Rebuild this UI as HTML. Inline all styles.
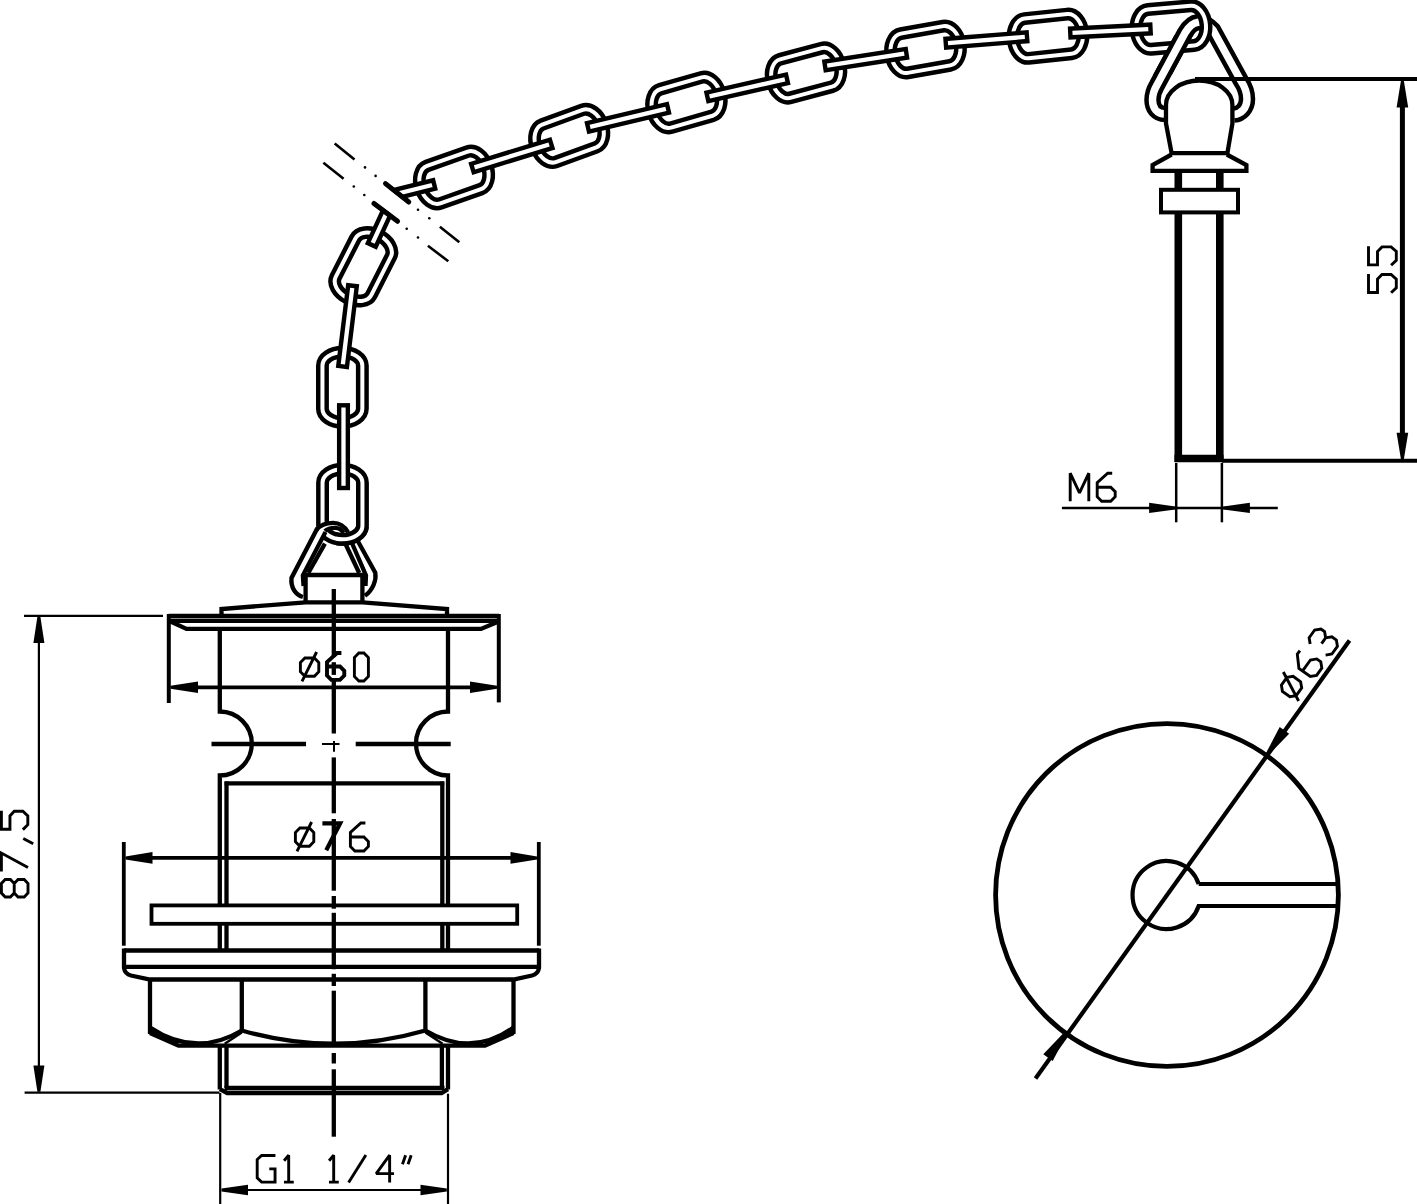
<!DOCTYPE html>
<html><head><meta charset="utf-8"><title>drawing</title>
<style>html,body{margin:0;padding:0;background:#fff;}svg{display:block;}</style></head>
<body><svg width="1417" height="1204" viewBox="0 0 1417 1204">
<defs><clipPath id="clipV1"><rect x="336" y="527" width="45" height="19.5"/></clipPath><clipPath id="clipH7"><rect x="1140" y="35" width="60" height="40"/></clipPath></defs>
<rect x="0" y="0" width="1417" height="1204" fill="#fff"/>
<g stroke="#000" fill="none" stroke-linecap="butt">
<polyline points="221.5,614.5 221.5,609 305.5,602.3 362.5,602.3 447,609 447,614.5" stroke-width="4.3" fill="none" stroke-linejoin="miter"/>
<line x1="168.8" y1="616" x2="499" y2="616" stroke-width="4.3" stroke-linecap="butt"/>
<line x1="170" y1="620.8" x2="498" y2="620.8" stroke-width="4.3" stroke-linecap="butt"/>
<polyline points="170,621.3 186.5,628.9 481,628.9 497.5,622" stroke-width="4.3" fill="none" stroke-linejoin="miter"/>
<path d="M219.8,627 L219.8,711.5 A32,32 0 0 1 219.8,775.5 L219.8,951" stroke-width="4.3" fill="none" />
<path d="M448,627 L448,711.5 A32,32 0 0 0 448,775.5 L448,951" stroke-width="4.3" fill="none" />
<line x1="226.5" y1="781.5" x2="226.5" y2="951" stroke-width="4.3" stroke-linecap="butt"/>
<line x1="442.3" y1="781.5" x2="442.3" y2="951" stroke-width="4.3" stroke-linecap="butt"/>
<line x1="224.6" y1="783.4" x2="444.2" y2="783.4" stroke-width="4.3" stroke-linecap="butt"/>
<line x1="211.5" y1="744" x2="306" y2="744" stroke-width="4.3" stroke-linecap="butt"/>
<line x1="355.7" y1="744" x2="450.7" y2="744" stroke-width="4.3" stroke-linecap="butt"/>
<line x1="322" y1="744" x2="339.5" y2="744" stroke-width="2" stroke-linecap="butt"/>
<line x1="334" y1="741" x2="334" y2="751.8" stroke-width="2" stroke-linecap="butt"/>
<path d="M124,950.5 L539,950.5 M124,966.8 L539,966.8" stroke-width="4.3" fill="none" />
<path d="M124,948.6 L124,968 Q125,974 131,975.5 L150,979.5 L513.5,979.5 L532,975.5 Q538,974 539,968 L539,948.6" stroke-width="4.3" fill="none" />
<line x1="150" y1="979" x2="150" y2="1034" stroke-width="4.3" stroke-linecap="butt"/>
<line x1="241.8" y1="979" x2="241.8" y2="1032" stroke-width="4.3" stroke-linecap="butt"/>
<line x1="425.4" y1="979" x2="425.4" y2="1032" stroke-width="4.3" stroke-linecap="butt"/>
<line x1="513.5" y1="979" x2="513.5" y2="1034" stroke-width="4.3" stroke-linecap="butt"/>
<path d="M150,1027.5 Q196,1058 241.8,1030.5" stroke-width="4.3" fill="none" />
<path d="M241.8,1030.5 Q333.8,1057 425.4,1030.5" stroke-width="4.3" fill="none" />
<path d="M425.4,1030.5 Q471.6,1058 513.5,1027.5" stroke-width="4.3" fill="none" />
<polyline points="150,1033 178.5,1045.7 485,1045.7 513.5,1033" stroke-width="4.3" fill="none" stroke-linejoin="miter"/>
<path d="M150,1027 Q163,1035.5 178.5,1040.6 L178.5,1045.7 L150,1034.6 Z" fill="#000" stroke="none"/>
<path d="M513.5,1027 Q500.5,1035.5 485,1040.6 L485,1045.7 L513.5,1034.6 Z" fill="#000" stroke="none"/>
<line x1="241.8" y1="1032.5" x2="224.7" y2="1043.8" stroke-width="2.4" stroke-linecap="butt"/>
<line x1="425.4" y1="1032.5" x2="442.6" y2="1043.8" stroke-width="2.4" stroke-linecap="butt"/>
<line x1="219.8" y1="1044" x2="219.8" y2="1089.5" stroke-width="4.3" stroke-linecap="butt"/>
<line x1="226.5" y1="1044" x2="226.5" y2="1088" stroke-width="4.3" stroke-linecap="butt"/>
<line x1="441.9" y1="1044" x2="441.9" y2="1088" stroke-width="4.3" stroke-linecap="butt"/>
<line x1="448" y1="1044" x2="448" y2="1089.5" stroke-width="4.3" stroke-linecap="butt"/>
<line x1="224.6" y1="1088" x2="444.5" y2="1088" stroke-width="4.3" stroke-linecap="butt"/>
<polyline points="219.8,1089.2 227.2,1093 441.6,1093 448,1089.2" stroke-width="4.3" fill="none" stroke-linejoin="miter"/>
<rect x="151.5" y="905.4" width="365.7" height="18.4" fill="#fff" stroke-width="3.8"/>
<line x1="333.8" y1="589" x2="333.8" y2="657" stroke-width="4.3" stroke-linecap="butt"/>
<line x1="333.8" y1="662.2" x2="333.8" y2="674.9" stroke-width="4.3" stroke-linecap="butt"/>
<line x1="333.8" y1="678" x2="333.8" y2="733.5" stroke-width="4.3" stroke-linecap="butt"/>
<line x1="333.8" y1="757.4" x2="333.8" y2="813.3" stroke-width="4.3" stroke-linecap="butt"/>
<line x1="333.8" y1="819" x2="333.8" y2="890.7" stroke-width="4.3" stroke-linecap="butt"/>
<line x1="333.8" y1="896" x2="333.8" y2="908.7" stroke-width="4.3" stroke-linecap="butt"/>
<line x1="333.8" y1="912.8" x2="333.8" y2="969.2" stroke-width="4.3" stroke-linecap="butt"/>
<line x1="333.8" y1="973.8" x2="333.8" y2="986" stroke-width="4.3" stroke-linecap="butt"/>
<line x1="333.8" y1="990.7" x2="333.8" y2="1047" stroke-width="4.3" stroke-linecap="butt"/>
<line x1="333.8" y1="1053" x2="333.8" y2="1063.5" stroke-width="4.3" stroke-linecap="butt"/>
<line x1="333.8" y1="1069.3" x2="333.8" y2="1136.7" stroke-width="4.3" stroke-linecap="butt"/>
<polyline points="305.6,602.3 305.6,575 362.4,575 362.4,602.3" stroke-width="4.3" fill="none" stroke-linejoin="miter"/>
<line x1="24" y1="615.8" x2="163" y2="615.8" stroke-width="2.2" stroke-linecap="butt"/>
<line x1="24.6" y1="1092.7" x2="219.5" y2="1092.7" stroke-width="2.2" stroke-linecap="butt"/>
<line x1="38.9" y1="625" x2="38.9" y2="1085" stroke-width="2.2" stroke-linecap="butt"/>
<polygon points="40.4,616.8 44.4,643 33.4,643 37.4,616.8" fill="#000" stroke="none"/>
<polygon points="37.4,1091.8 33.4,1065.6 44.4,1065.6 40.4,1091.8" fill="#000" stroke="none"/>
<line x1="168.8" y1="614" x2="168.8" y2="703" stroke-width="4" stroke-linecap="butt"/>
<line x1="498.8" y1="614" x2="498.8" y2="702.4" stroke-width="4" stroke-linecap="butt"/>
<line x1="190" y1="687.3" x2="478" y2="687.3" stroke-width="3.8" stroke-linecap="butt"/>
<polygon points="170.5,685.8 198,681.5 198,693.1 170.5,688.8" fill="#000" stroke="none"/>
<polygon points="497,688.8 470,693.1 470,681.5 497,685.8" fill="#000" stroke="none"/>
<line x1="123.8" y1="842" x2="123.8" y2="945.7" stroke-width="3.8" stroke-linecap="butt"/>
<line x1="538.8" y1="842" x2="538.8" y2="945.7" stroke-width="3.8" stroke-linecap="butt"/>
<line x1="145" y1="857.9" x2="520" y2="857.9" stroke-width="3.8" stroke-linecap="butt"/>
<polygon points="125.5,856.4 152.5,852.1 152.5,863.7 125.5,859.4" fill="#000" stroke="none"/>
<polygon points="537,859.4 510.5,863.7 510.5,852.1 537,856.4" fill="#000" stroke="none"/>
<line x1="220.2" y1="1093" x2="220.2" y2="1204" stroke-width="2.2" stroke-linecap="butt"/>
<line x1="448" y1="1093.7" x2="448" y2="1204" stroke-width="2.2" stroke-linecap="butt"/>
<line x1="235" y1="1190" x2="435" y2="1190" stroke-width="2.2" stroke-linecap="butt"/>
<polygon points="221.5,1188.5 248,1184.8 248,1195.2 221.5,1191.5" fill="#000" stroke="none"/>
<polygon points="446.8,1191.5 420.5,1195.2 420.5,1184.8 446.8,1188.5" fill="#000" stroke="none"/>
<path transform="translate(300.4,653)" d="M4.5,5 L14,5 L18.4,9.5 L18.4,18.7 L14,23.2 L4.5,23.2 L0,18.7 L0,9.5 Z M16.2,-1 L1.6,28.3" stroke-width="2.9" fill="none" stroke-linejoin="miter" stroke-miterlimit="2.2" vector-effect="non-scaling-stroke"/>
<path transform="translate(327,653) scale(0.96)" d="M15,0 L10.5,0 L0,9.5 L0,23.5 L4.5,28 L13.5,28 L18,23.5 L18,18.5 L13.5,14 L0,14" stroke-width="3.9" fill="none" stroke-linejoin="miter" stroke-miterlimit="2.2" vector-effect="non-scaling-stroke"/>
<path transform="translate(354.4,653)" d="M4.5,0 L9.5,0 L14,4.5 L14,23.5 L9.5,28 L4.5,28 L0,23.5 L0,4.5 Z" stroke-width="2.9" fill="none" stroke-linejoin="miter" stroke-miterlimit="2.2" vector-effect="non-scaling-stroke"/>
<path transform="translate(295.4,823)" d="M4.5,5 L14,5 L18.4,9.5 L18.4,18.7 L14,23.2 L4.5,23.2 L0,18.7 L0,9.5 Z M16.2,-1 L1.6,28.3" stroke-width="2.9" fill="none" stroke-linejoin="miter" stroke-miterlimit="2.2" vector-effect="non-scaling-stroke"/>
<path transform="translate(322.4,823.3) scale(0.96)" d="M0,0 L18.5,0 L4,28" stroke-width="4.2" fill="none" stroke-linejoin="miter" stroke-miterlimit="2.2" vector-effect="non-scaling-stroke"/>
<path transform="translate(350.4,823)" d="M15,0 L10.5,0 L0,9.5 L0,23.5 L4.5,28 L13.5,28 L18,23.5 L18,18.5 L13.5,14 L0,14" stroke-width="2.9" fill="none" stroke-linejoin="miter" stroke-miterlimit="2.2" vector-effect="non-scaling-stroke"/>
<path transform="translate(257.2,1155.2) scale(0.96)" d="M19,0.3 L4.6,0.3 L0,4.5 L0,23.6 L4.6,28 L18.6,28 L18.6,14.2 L12.6,14.2" stroke-width="2.9" fill="none" stroke-linejoin="miter" stroke-miterlimit="2.2" vector-effect="non-scaling-stroke"/>
<path transform="translate(283.6,1155.2) scale(0.96)" d="M0.5,5.8 L5.3,0 L5.3,28 M0.4,28 L10.6,28" stroke-width="2.9" fill="none" stroke-linejoin="miter" stroke-miterlimit="2.2" vector-effect="non-scaling-stroke"/>
<path transform="translate(328.6,1155.2) scale(0.96)" d="M0.5,5.8 L5.3,0 L5.3,28 M0.4,28 L10.6,28" stroke-width="2.9" fill="none" stroke-linejoin="miter" stroke-miterlimit="2.2" vector-effect="non-scaling-stroke"/>
<path transform="translate(348.6,1155.2) scale(0.96)" d="M0,28.5 L18,-0.2" stroke-width="2.9" fill="none" stroke-linejoin="miter" stroke-miterlimit="2.2" vector-effect="non-scaling-stroke"/>
<path transform="translate(376.2,1155.2) scale(0.96)" d="M14,28.5 L14,0 L0,19.2 L18.6,19.2" stroke-width="2.9" fill="none" stroke-linejoin="miter" stroke-miterlimit="2.2" vector-effect="non-scaling-stroke"/>
<path transform="translate(401.5,1155.2) scale(0.96)" d="M1,9.5 L4.3,0 M6.8,9.5 L10.1,0" stroke-width="2.9" fill="none" stroke-linejoin="miter" stroke-miterlimit="2.2" vector-effect="non-scaling-stroke"/>
<path transform="translate(1.4,897) rotate(-90) scale(1,0.95)" d="M4,0 L13.5,0 L17.5,4 L17.5,9.5 L13.5,13.5 L4,13.5 L0,9.5 L0,4 Z M4,13.5 L13.5,13.5 L17.5,17.5 L17.5,24 L13.5,28 L4,28 L0,24 L0,17.5 Z" stroke-width="2.9" fill="none" stroke-linejoin="miter" stroke-miterlimit="2.2" vector-effect="non-scaling-stroke"/>
<path transform="translate(1.4,871.6) rotate(-90) scale(1,0.95)" d="M0,0 L18.5,0 L4,28" stroke-width="2.9" fill="none" stroke-linejoin="miter" stroke-miterlimit="2.2" vector-effect="non-scaling-stroke"/>
<path transform="translate(1.4,843.8) rotate(-90) scale(1,0.95)" d="M5.3,23 L0,33.5" stroke-width="2.9" fill="none" stroke-linejoin="miter" stroke-miterlimit="2.2" vector-effect="non-scaling-stroke"/>
<path transform="translate(1.4,829.9) rotate(-90) scale(1,0.95)" d="M19.2,0 L0.6,0 L0.6,9 L14,9 L18.6,13.5 L18.6,22.6 L14,27.8 L5.2,27.8 L0.3,22.6" stroke-width="2.9" fill="none" stroke-linejoin="miter" stroke-miterlimit="2.2" vector-effect="non-scaling-stroke"/>
<rect x="-35.05" y="-19.95" width="70.1" height="39.9" rx="13.5" ry="19.95" transform="translate(342.5,504.3) rotate(90)" fill="none" stroke-width="12.9" stroke="#000"/>
<rect x="-35.05" y="-19.95" width="70.1" height="39.9" rx="13.5" ry="19.95" transform="translate(342.5,504.3) rotate(90)" fill="none" stroke-width="4" stroke="#fff"/>
<rect x="-35.05" y="-19.95" width="70.1" height="39.9" rx="13.5" ry="19.95" transform="translate(342.4,387.3) rotate(90)" fill="none" stroke-width="12.9" stroke="#000"/>
<rect x="-35.05" y="-19.95" width="70.1" height="39.9" rx="13.5" ry="19.95" transform="translate(342.4,387.3) rotate(90)" fill="none" stroke-width="4" stroke="#fff"/>
<rect x="-35.05" y="-19.95" width="70.1" height="39.9" rx="13.5" ry="19.95" transform="translate(363.3,266.8) rotate(117)" fill="none" stroke-width="12.9" stroke="#000"/>
<rect x="-35.05" y="-19.95" width="70.1" height="39.9" rx="13.5" ry="19.95" transform="translate(363.3,266.8) rotate(117)" fill="none" stroke-width="4" stroke="#fff"/>
<rect x="-35.05" y="-19.95" width="70.1" height="39.9" rx="13.5" ry="19.95" transform="translate(454,177.5) rotate(-19.4)" fill="none" stroke-width="12.9" stroke="#000"/>
<rect x="-35.05" y="-19.95" width="70.1" height="39.9" rx="13.5" ry="19.95" transform="translate(454,177.5) rotate(-19.4)" fill="none" stroke-width="4" stroke="#fff"/>
<rect x="-35.05" y="-19.95" width="70.1" height="39.9" rx="13.5" ry="19.95" transform="translate(569.2,135.9) rotate(-20)" fill="none" stroke-width="12.9" stroke="#000"/>
<rect x="-35.05" y="-19.95" width="70.1" height="39.9" rx="13.5" ry="19.95" transform="translate(569.2,135.9) rotate(-20)" fill="none" stroke-width="4" stroke="#fff"/>
<rect x="-35.05" y="-19.95" width="70.1" height="39.9" rx="13.5" ry="19.95" transform="translate(686.4,102.5) rotate(-16)" fill="none" stroke-width="12.9" stroke="#000"/>
<rect x="-35.05" y="-19.95" width="70.1" height="39.9" rx="13.5" ry="19.95" transform="translate(686.4,102.5) rotate(-16)" fill="none" stroke-width="4" stroke="#fff"/>
<rect x="-35.05" y="-19.95" width="70.1" height="39.9" rx="13.5" ry="19.95" transform="translate(806,73) rotate(-15)" fill="none" stroke-width="12.9" stroke="#000"/>
<rect x="-35.05" y="-19.95" width="70.1" height="39.9" rx="13.5" ry="19.95" transform="translate(806,73) rotate(-15)" fill="none" stroke-width="4" stroke="#fff"/>
<rect x="-35.05" y="-19.95" width="70.1" height="39.9" rx="13.5" ry="19.95" transform="translate(925.5,49.5) rotate(-10)" fill="none" stroke-width="12.9" stroke="#000"/>
<rect x="-35.05" y="-19.95" width="70.1" height="39.9" rx="13.5" ry="19.95" transform="translate(925.5,49.5) rotate(-10)" fill="none" stroke-width="4" stroke="#fff"/>
<rect x="-35.05" y="-19.95" width="70.1" height="39.9" rx="13.5" ry="19.95" transform="translate(1048,36.2) rotate(-6)" fill="none" stroke-width="12.9" stroke="#000"/>
<rect x="-35.05" y="-19.95" width="70.1" height="39.9" rx="13.5" ry="19.95" transform="translate(1048,36.2) rotate(-6)" fill="none" stroke-width="4" stroke="#fff"/>
<path d="M302.9,597 C296,595 290.5,588 291.5,578 L316.2,530.3 C320,525 326,522.9 333.2,522.9 C340,522.9 345,527 348.1,532.4 L343.5,533 C342,530 339,527.8 335,527.8 C331,527.8 327,529 324.9,531 L301.8,575.5 L302.3,586 Z" fill="#fff" stroke="none"/>
<path d="M302.9,597 C296,595 290.5,588 291.5,578 L317.5,528" stroke-width="4.4" fill="none" />
<path d="M303.5,586 L302.8,575.5 L325.5,532" stroke-width="4.2" fill="none" />
<path d="M308.3,573 L324.9,543.6" stroke-width="4.3" fill="none" />
<path d="M316.2,530.3 C320,525 326,522.9 333.2,522.9 C340,522.9 345,527 348.1,532.4" stroke-width="4.3" fill="none" />
<path d="M324.9,531 C327,529 331,527.8 335,527.8 C339,527.8 342,530 343.5,533" stroke-width="4.3" fill="none" />
<path d="M357.5,540.5 L375.3,572.8 C376.5,580 373,590 364.9,595.8" stroke-width="4.3" fill="none" />
<path d="M351.5,542 L366,575.5 L365.5,586" stroke-width="4.3" fill="none" />
<path d="M344.8,542.5 L359.2,573" stroke-width="4.3" fill="none" />
<g clip-path="url(#clipV1)">
<rect x="-35.05" y="-19.95" width="70.1" height="39.9" rx="13.5" ry="19.95" transform="translate(342.5,504.3) rotate(90)" fill="none" stroke-width="12.9" stroke="#000"/>
<rect x="-35.05" y="-19.95" width="70.1" height="39.9" rx="13.5" ry="19.95" transform="translate(342.5,504.3) rotate(90)" fill="none" stroke-width="4" stroke="#fff"/>
</g>
<rect x="0" y="-4.35" width="82.7" height="8.7" transform="translate(343.5,405.3) rotate(90)" fill="#fff" stroke-width="4.4" stroke-linejoin="miter"/>
<rect x="0" y="-4.35" width="81.3" height="8.7" transform="translate(342.6,366.4) rotate(-83.01)" fill="#fff" stroke-width="4.4" stroke-linejoin="miter"/>
<polygon points="382.95,210.31 367.85,243.08 375.75,246.72 390.05,215.69" fill="#fff" stroke-width="4.4" stroke-linejoin="miter"/>
<line x1="374" y1="203.4" x2="397.6" y2="221.3" stroke-width="5" stroke-linecap="round"/>
<polygon points="402.32,196.91 435.25,188.72 433.15,180.28 393.68,190.09" fill="#fff" stroke-width="4.4" stroke-linejoin="miter"/>
<line x1="385.5" y1="183.6" x2="408.8" y2="202" stroke-width="5" stroke-linecap="round"/>
<line x1="334.7" y1="143.4" x2="354.5" y2="159.6" stroke-width="2.6" stroke-linecap="butt"/>
<line x1="323.4" y1="162.7" x2="343.6" y2="178.7" stroke-width="2.6" stroke-linecap="butt"/>
<line x1="439.9" y1="226.7" x2="459.3" y2="242.2" stroke-width="2.6" stroke-linecap="butt"/>
<line x1="427.9" y1="245.7" x2="448.3" y2="261.3" stroke-width="2.6" stroke-linecap="butt"/>
<circle cx="365" cy="167.4" r="1.3" fill="#000" stroke="none"/>
<circle cx="375.6" cy="175.9" r="1.3" fill="#000" stroke="none"/>
<circle cx="353.8" cy="186.5" r="1.3" fill="#000" stroke="none"/>
<circle cx="364.3" cy="195" r="1.3" fill="#000" stroke="none"/>
<circle cx="418" cy="209.7" r="1.3" fill="#000" stroke="none"/>
<circle cx="429.3" cy="218.2" r="1.3" fill="#000" stroke="none"/>
<circle cx="406.7" cy="228.8" r="1.3" fill="#000" stroke="none"/>
<circle cx="418" cy="237.5" r="1.3" fill="#000" stroke="none"/>
<rect x="0" y="-4.35" width="82.43" height="8.7" transform="translate(472.4,168) rotate(-17.07)" fill="#fff" stroke-width="4.4" stroke-linejoin="miter"/>
<rect x="0" y="-4.35" width="82.23" height="8.7" transform="translate(588,127.3) rotate(-13.36)" fill="#fff" stroke-width="4.4" stroke-linejoin="miter"/>
<rect x="0" y="-4.35" width="81.61" height="8.7" transform="translate(707.4,96.8) rotate(-12.74)" fill="#fff" stroke-width="4.4" stroke-linejoin="miter"/>
<rect x="0" y="-4.35" width="82.37" height="8.7" transform="translate(825,66) rotate(-8.8)" fill="#fff" stroke-width="4.4" stroke-linejoin="miter"/>
<rect x="0" y="-4.35" width="81.45" height="8.7" transform="translate(945.8,43.2) rotate(-4.51)" fill="#fff" stroke-width="4.4" stroke-linejoin="miter"/>
<path d="M1165,114 C1157,114 1152.5,108 1152.5,100 C1152.5,94 1154,90 1157,85 L1185,33 Q1197,13 1213,30 L1241,81 C1245,87 1247,92 1247,99 C1247,108 1241,114 1234,114.5" fill="none" stroke="#000" stroke-width="16.5" stroke-linecap="butt" stroke-linejoin="round"/>
<path d="M1165,114 C1157,114 1152.5,108 1152.5,100 C1152.5,94 1154,90 1157,85 L1185,33 Q1197,13 1213,30 L1241,81 C1245,87 1247,92 1247,99 C1247,108 1241,114 1234,114.5" fill="none" stroke="#fff" stroke-width="7.5" stroke-linecap="butt" stroke-linejoin="round"/>
<rect x="-35.05" y="-19.95" width="70.1" height="39.9" rx="13.5" ry="19.95" transform="translate(1171,27.5) rotate(-5)" fill="none" stroke-width="12.9" stroke="#000"/>
<rect x="-35.05" y="-19.95" width="70.1" height="39.9" rx="13.5" ry="19.95" transform="translate(1171,27.5) rotate(-5)" fill="none" stroke-width="4" stroke="#fff"/>
<rect x="0" y="-4.35" width="80.3" height="8.7" transform="translate(1070.3,33) rotate(-2.86)" fill="#fff" stroke-width="4.4" stroke-linejoin="miter"/>
<g clip-path="url(#clipH7)">
<path d="M1165,114 C1157,114 1152.5,108 1152.5,100 C1152.5,94 1154,90 1157,85 L1185,33 Q1197,13 1213,30 L1241,81 C1245,87 1247,92 1247,99 C1247,108 1241,114 1234,114.5" fill="none" stroke="#000" stroke-width="16.5" stroke-linecap="butt" stroke-linejoin="round"/>
<path d="M1165,114 C1157,114 1152.5,108 1152.5,100 C1152.5,94 1154,90 1157,85 L1185,33 Q1197,13 1213,30 L1241,81 C1245,87 1247,92 1247,99 C1247,108 1241,114 1234,114.5" fill="none" stroke="#fff" stroke-width="7.5" stroke-linecap="butt" stroke-linejoin="round"/>
</g>
<path d="M1166,123.5 L1166,105 A33.2,24.5 0 0 1 1232.4,105 L1232.4,123.5 L1227.4,153.1 L1171.6,153.1 Z" stroke-width="4.3" fill="#fff" />
<polyline points="1171.6,154.5 1152.6,165 1152.6,170.8 1246.4,170.8 1246.4,165 1226.8,154.5" stroke-width="4.3" fill="none" stroke-linejoin="miter"/>
<line x1="1178.3" y1="172" x2="1178.3" y2="462" stroke-width="7.6" stroke-linecap="butt"/>
<line x1="1219.8" y1="172" x2="1219.8" y2="462" stroke-width="7.6" stroke-linecap="butt"/>
<line x1="1174.5" y1="458.5" x2="1223.6" y2="458.5" stroke-width="7.6" stroke-linecap="butt"/>
<rect x="1161" y="189.8" width="77" height="22.6" fill="#fff" stroke-width="4"/>
<line x1="1195" y1="79" x2="1417" y2="79" stroke-width="4.1" stroke-linecap="butt"/>
<line x1="1222" y1="460.8" x2="1417" y2="460.8" stroke-width="4.1" stroke-linecap="butt"/>
<line x1="1402.4" y1="100" x2="1402.4" y2="440" stroke-width="5" stroke-linecap="butt"/>
<polygon points="1403.9,81 1408.2,107.5 1396.6,107.5 1400.9,81" fill="#000" stroke="none"/>
<polygon points="1400.9,459 1396.6,432.8 1408.2,432.8 1403.9,459" fill="#000" stroke="none"/>
<path transform="translate(1368.5,293.1) rotate(-90)" d="M19.2,0 L0.6,0 L0.6,9 L14,9 L18.6,13.5 L18.6,22.6 L14,27.8 L5.2,27.8 L0.3,22.6" stroke-width="2.9" fill="none" stroke-linejoin="miter" stroke-miterlimit="2.2" vector-effect="non-scaling-stroke"/>
<path transform="translate(1368.5,265.5) rotate(-90)" d="M19.2,0 L0.6,0 L0.6,9 L14,9 L18.6,13.5 L18.6,22.6 L14,27.8 L5.2,27.8 L0.3,22.6" stroke-width="2.9" fill="none" stroke-linejoin="miter" stroke-miterlimit="2.2" vector-effect="non-scaling-stroke"/>
<line x1="1176.2" y1="463" x2="1176.2" y2="522.3" stroke-width="2.5" stroke-linecap="butt"/>
<line x1="1221.9" y1="463" x2="1221.9" y2="522.3" stroke-width="2.5" stroke-linecap="butt"/>
<line x1="1061.9" y1="507.9" x2="1277.8" y2="507.9" stroke-width="2.5" stroke-linecap="butt"/>
<polygon points="1175.3,509.4 1149.1,513.1 1149.1,502.7 1175.3,506.4" fill="#000" stroke="none"/>
<polygon points="1223.3,506.4 1249.9,502.7 1249.9,513.1 1223.3,509.4" fill="#000" stroke="none"/>
<path transform="translate(1070.2,473.2)" d="M0,28 L0,0 L9.3,19.6 L18.6,0 L18.6,28" stroke-width="2.9" fill="none" stroke-linejoin="miter" stroke-miterlimit="2.2" vector-effect="non-scaling-stroke"/>
<path transform="translate(1097.2,473.2)" d="M15,0 L10.5,0 L0,9.5 L0,23.5 L4.5,28 L13.5,28 L18,23.5 L18,18.5 L13.5,14 L0,14" stroke-width="2.9" fill="none" stroke-linejoin="miter" stroke-miterlimit="2.2" vector-effect="non-scaling-stroke"/>
<circle cx="1167" cy="895" r="171.4" fill="none" stroke-width="4.8"/>
<path d="M1198.7,884 A34,34 0 1 0 1198.7,906 L1338,906 M1198.7,884 L1338,884" stroke-width="4.2" fill="none" />
<line x1="1035.5" y1="1078.5" x2="1349.5" y2="640.5" stroke-width="4.2" stroke-linecap="butt"/>
<polygon points="1265.68,753.83 1279.69,726.92 1289.11,733.68 1268.12,755.57" fill="#000" stroke="none"/>
<polygon points="1066.72,1034.07 1052.71,1060.98 1043.29,1054.22 1064.28,1032.33" fill="#000" stroke="none"/>
<path transform="translate(1274.7,685.8) rotate(-54.4)" d="M4.5,5 L14,5 L18.4,9.5 L18.4,18.7 L14,23.2 L4.5,23.2 L0,18.7 L0,9.5 Z M16.2,-1 L1.6,28.3" stroke-width="2.9" fill="none" stroke-linejoin="miter" stroke-miterlimit="2.2" vector-effect="non-scaling-stroke"/>
<path transform="translate(1291.2,662.8) rotate(-54.4)" d="M15,0 L10.5,0 L0,9.5 L0,23.5 L4.5,28 L13.5,28 L18,23.5 L18,18.5 L13.5,14 L0,14" stroke-width="2.9" fill="none" stroke-linejoin="miter" stroke-miterlimit="2.2" vector-effect="non-scaling-stroke"/>
<path transform="translate(1306.5,641.4) rotate(-54.4)" d="M0,4.5 L4.5,0 L14,0 L18.5,4.5 L18.5,9 L14,13.5 L7,13.5 M14,13.5 L18.5,18 L18.5,23.5 L14,28 L4.5,28 L0,23.5" stroke-width="2.9" fill="none" stroke-linejoin="miter" stroke-miterlimit="2.2" vector-effect="non-scaling-stroke"/>
</g></svg></body></html>
